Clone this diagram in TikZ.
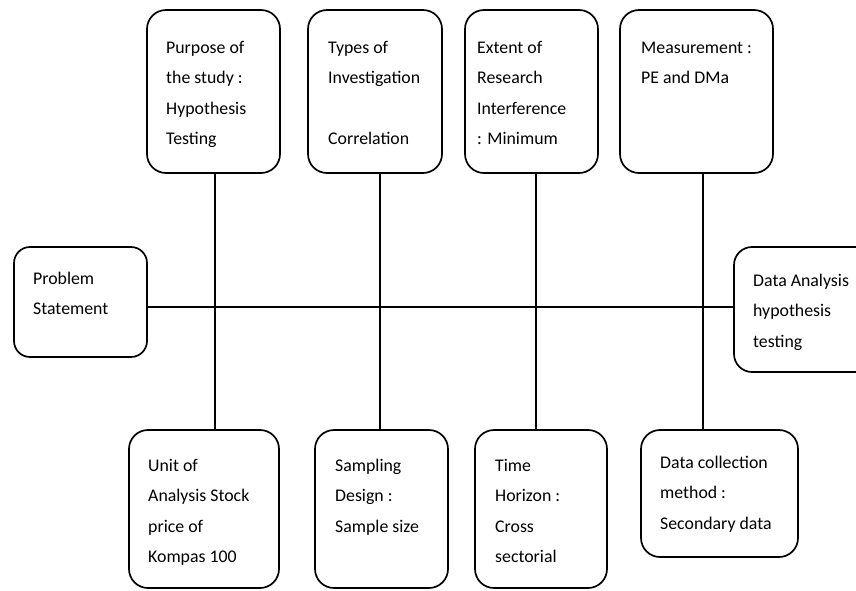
\documentclass[tikz,border=0pt]{standalone}
\usepackage{fontspec}
\setmainfont{Carlito}
\begin{document}
\begin{tikzpicture}[x=1pt,y=-1pt,
  box/.style={draw=black, line width=1.7pt, rectangle, rounded corners=19pt, inner sep=0pt},
  txt/.style={anchor=north west, inner sep=0pt, align=left, font=\fontsize{17.8}{30.4}\selectfont},
  conn/.style={draw=black, line width=1.7pt}]
\useasboundingbox (0,0) rectangle (856,590);
% top boxes
\node[box, minimum width=133pt, minimum height=163pt] (T1) at (213.5,91.5) {};
\node[box, minimum width=134pt, minimum height=163pt] (T2) at (375,91.5) {};
\node[box, minimum width=133pt, minimum height=163pt] (T3) at (531.5,91.5) {};
\node[box, minimum width=153pt, minimum height=163pt] (T4) at (696.5,91.5) {};
% side boxes
\node[box, rounded corners=16pt, minimum width=133pt, minimum height=110pt] (P) at (80.5,302) {};
\node[box, rounded corners=18pt, minimum width=146pt, minimum height=125pt] (D) at (807,309.5) {};
% bottom boxes
\node[box, minimum width=150pt, minimum height=158pt] (B1) at (204,509) {};
\node[box, minimum width=133pt, minimum height=158pt] (B2) at (381.5,509) {};
\node[box, minimum width=132pt, minimum height=158pt] (B3) at (541,509) {};
\node[box, minimum width=157pt, minimum height=127pt] (B4) at (719.5,493.5) {};
% texts
\node[txt] (t1) at (166,32) {\strut Purpose of\\the study :\\Hypothesis\\Testing};
\node[txt] (t2) at (328,32) {\strut Types of\\Investigation\\\strut\\Correlation};
\node[txt] (t3) at (477,32) {\strut Extent of\\Research\\Interference\\: Minimum};
\node[txt] (t4) at (641,32) {\strut Measurement :\\PE and DMa};
\node[txt] (tp) at (33,263) {\strut Problem\\Statement};
\node[txt] (td) at (753,265) {\strut Data Analysis\\hypothesis\\testing};
\node[txt] (b1) at (148,450) {\strut Unit of\\Analysis Stock\\price of\\Kompas 100};
\node[txt] (b2) at (335,450) {\strut Sampling\\Design :\\Sample size};
\node[txt] (b3) at (495,450) {\strut Time\\Horizon :\\Cross\\sectorial};
\node[txt] (b4) at (660,447) {\strut Data collection\\method :\\Secondary data};
% connectors
\coordinate (spine) at (0,307);
\coordinate (v1) at (215,0);
\coordinate (v2) at (380,0);
\coordinate (v3) at (536,0);
\coordinate (v4) at (703,0);
\draw[conn] (P.east |- spine) -- (D.west |- spine);
\draw[conn] (T1.south -| v1) -- (B1.north -| v1);
\draw[conn] (T2.south -| v2) -- (B2.north -| v2);
\draw[conn] (T3.south -| v3) -- (B3.north -| v3);
\draw[conn] (T4.south -| v4) -- (B4.north -| v4);
\end{tikzpicture}
\end{document}
